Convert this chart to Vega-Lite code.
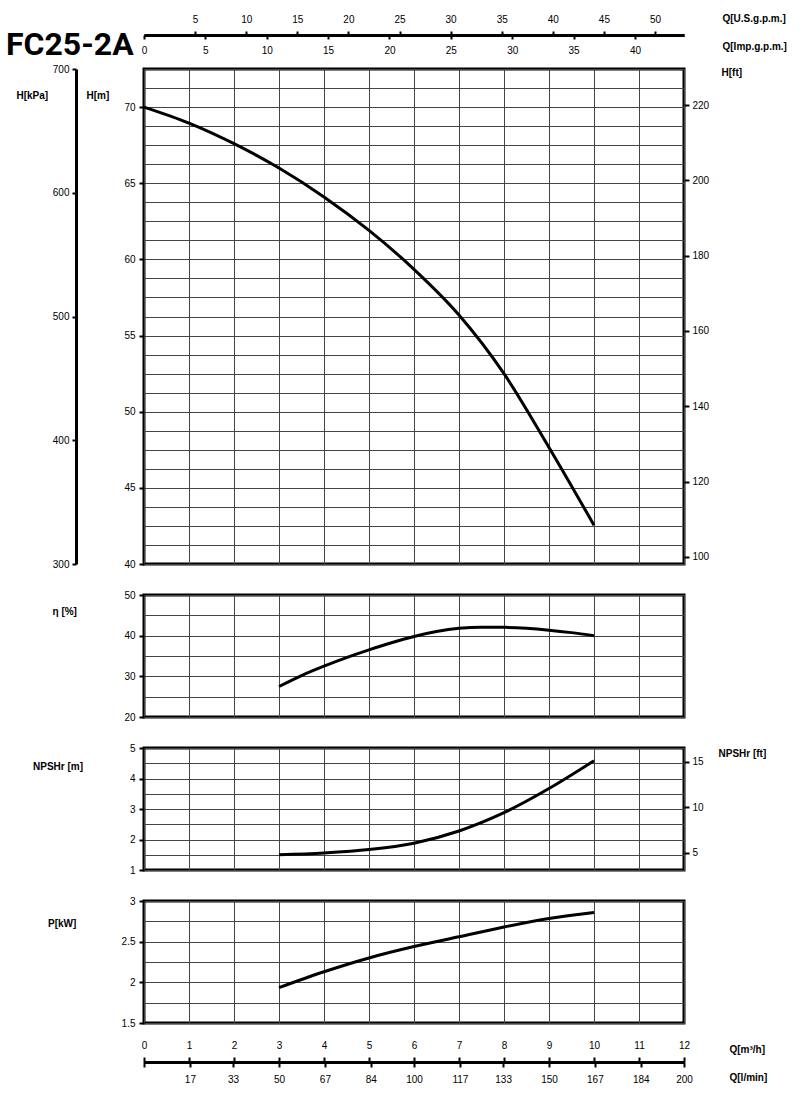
{
  "$schema": "https://vega.github.io/schema/vega-lite/v6.json",
  "padding": {"left": 5, "top": 13, "right": 5, "bottom": 5},
  "background": "white",
  "config": {
    "font": "Liberation Sans",
    "view": {"stroke": "black", "strokeWidth": 3},
    "axis": {
      "labelFont": "Liberation Sans", "labelFontSize": 10, "labelColor": "black",
      "titleFont": "Liberation Sans", "titleFontSize": 10, "titleFontWeight": "bold", "titleColor": "black",
      "tickColor": "black", "domainColor": "black", "gridColor": "#444", "gridWidth": 1, "gridOpacity": 1,
      "labelFlush": false, "labelOverlap": false, "labelBound": false,
      "titleAngle": 0, "titleAlign": "left", "titleBaseline": "middle"
    }
  },
  "datasets": {
    "head": [
      {"Q": 0, "H": 70.0}, {"Q": 1, "H": 68.95}, {"Q": 2, "H": 67.6}, {"Q": 3, "H": 66.0},
      {"Q": 4, "H": 64.1}, {"Q": 5, "H": 61.9}, {"Q": 6, "H": 59.35}, {"Q": 7, "H": 56.35},
      {"Q": 8, "H": 52.5}, {"Q": 9, "H": 47.65}, {"Q": 10, "H": 42.55}
    ],
    "eff": [
      {"Q": 3, "eta": 27.5}, {"Q": 3.5, "eta": 30.2}, {"Q": 4, "eta": 32.5}, {"Q": 4.5, "eta": 34.6},
      {"Q": 5, "eta": 36.5}, {"Q": 5.5, "eta": 38.25}, {"Q": 6, "eta": 39.8}, {"Q": 6.5, "eta": 41.0},
      {"Q": 7, "eta": 41.8}, {"Q": 7.5, "eta": 42.1}, {"Q": 8, "eta": 42.05}, {"Q": 8.5, "eta": 41.8},
      {"Q": 9, "eta": 41.35}, {"Q": 9.5, "eta": 40.75}, {"Q": 10, "eta": 40.0}
    ],
    "npsh": [
      {"Q": 3, "NPSHr": 1.5}, {"Q": 4, "NPSHr": 1.56}, {"Q": 5, "NPSHr": 1.67}, {"Q": 6, "NPSHr": 1.88},
      {"Q": 7, "NPSHr": 2.28}, {"Q": 8, "NPSHr": 2.88}, {"Q": 9, "NPSHr": 3.67}, {"Q": 10, "NPSHr": 4.58}
    ],
    "power": [
      {"Q": 3, "P": 1.935}, {"Q": 4, "P": 2.13}, {"Q": 5, "P": 2.3}, {"Q": 6, "P": 2.44},
      {"Q": 7, "P": 2.56}, {"Q": 8, "P": 2.68}, {"Q": 9, "P": 2.785}, {"Q": 10, "P": 2.86}
    ]
  },
  "spacing": 31,
  "bounds": "flush",
  "vconcat": [
    {
      "width": 540, "height": 3,
      "view": {"stroke": null},
      "data": {"values": [{}]},
      "layer": [
        {
          "mark": {"type": "point", "opacity": 0},
          "encoding": {
            "x": {"datum": 0, "type": "quantitative", "scale": {"domain": [0, 52.834], "nice": false, "zero": false},
              "axis": {"orient": "top", "values": [5, 10, 15, 20, 25, 30, 35, 40, 45, 50], "grid": false,
                "domain": true, "domainWidth": 3, "tickSize": 4, "tickWidth": 2, "labelPadding": 7,
                "title": "Q[U.S.g.p.m.]", "titleX": 578, "titleY": -17}},
            "y": {"datum": 0, "type": "quantitative", "scale": {"domain": [0, 1]},
              "axis": {"orient": "left", "domain": false, "ticks": false, "labels": false, "grid": false,
                "title": "FC25-2A", "titleX": -138.5, "titleY": 19, "titleBaseline": "alphabetic",
                "titleFont": "Roboto", "titleFontSize": 32, "titleFontWeight": "bold"}}
          }
        },
        {
          "mark": {"type": "point", "opacity": 0},
          "encoding": {
            "x": {"datum": 0, "type": "quantitative", "scale": {"domain": [0, 43.994], "nice": false, "zero": false},
              "axis": {"orient": "bottom", "offset": -3, "values": [0, 5, 10, 15, 20, 25, 30, 35, 40], "grid": false,
                "domain": true, "domainWidth": 3, "tickSize": 4, "tickWidth": 2, "labelPadding": 6,
                "title": "Q[Imp.g.p.m.]", "titleX": 578, "titleY": 11}}
          }
        }
      ],
      "resolve": {"scale": {"x": "independent"}}
    },
    {
      "width": 540, "height": 495,
      "data": {"name": "head"},
      "layer": [
        {
          "mark": {"type": "line", "color": "black", "strokeWidth": 3, "interpolate": "monotone"},
          "encoding": {
            "x": {"field": "Q", "type": "quantitative", "scale": {"domain": [0, 12], "nice": false, "zero": false},
              "axis": {"orient": "bottom", "values": [0, 1, 2, 3, 4, 5, 6, 7, 8, 9, 10, 11, 12], "grid": true, "labels": false, "ticks": false, "domain": false, "title": null}},
            "y": {"field": "H", "type": "quantitative", "scale": {"domain": [40, 72.5], "nice": false, "zero": false},
              "axis": {"orient": "left", "values": [40, 41.25, 42.5, 43.75, 45, 46.25, 47.5, 48.75, 50, 51.25, 52.5, 53.75, 55, 56.25, 57.5, 58.75, 60, 61.25, 62.5, 63.75, 65, 66.25, 67.5, 68.75, 70, 71.25, 72.5],
                "grid": true, "domain": false,
                "labelExpr": "datum.value % 5 === 0 ? '' + datum.value : ''",
                "tickOpacity": {"condition": {"test": "datum.value % 5 === 0", "value": 1}, "value": 0},
                "tickSize": 5, "tickWidth": 2, "labelPadding": 4,
                "title": "H[m]", "titleX": -58, "titleY": 26}}
          }
        },
        {
          "mark": {"type": "point", "opacity": 0},
          "encoding": {
            "y": {"datum": 300, "type": "quantitative", "scale": {"domain": [300, 700], "nice": false, "zero": false},
              "axis": {"orient": "left", "offset": 68, "values": [300, 400, 500, 600, 700], "grid": false,
                "domain": true, "domainWidth": 3, "tickSize": 4, "tickWidth": 2, "labelPadding": 3,
                "title": "H[kPa]", "titleX": -60, "titleY": 26}}
          }
        },
        {
          "mark": {"type": "point", "opacity": 0},
          "encoding": {
            "y": {"datum": 100, "type": "quantitative", "scale": {"domain": [98.1, 229.6], "nice": false, "zero": false},
              "axis": {"orient": "right", "values": [100, 120, 140, 160, 180, 200, 220], "grid": false,
                "domain": false, "tickSize": 5, "tickWidth": 2, "labelPadding": 3,
                "title": "H[ft]", "titleX": 37, "titleY": 3}}
          }
        }
      ],
      "resolve": {"scale": {"y": "independent"}}
    },
    {
      "width": 540, "height": 122,
      "data": {"name": "eff"},
      "mark": {"type": "line", "color": "black", "strokeWidth": 3, "interpolate": "monotone"},
      "encoding": {
        "x": {"field": "Q", "type": "quantitative", "scale": {"domain": [0, 12], "nice": false, "zero": false},
          "axis": {"orient": "bottom", "values": [0, 1, 2, 3, 4, 5, 6, 7, 8, 9, 10, 11, 12], "grid": true, "labels": false, "ticks": false, "domain": false, "title": null}},
        "y": {"field": "eta", "type": "quantitative", "scale": {"domain": [20, 50], "nice": false, "zero": false},
          "axis": {"orient": "left", "values": [20, 25, 30, 35, 40, 45, 50], "grid": true, "domain": false,
            "labelExpr": "datum.value % 10 === 0 ? '' + datum.value : ''",
            "tickOpacity": {"condition": {"test": "datum.value % 10 === 0", "value": 1}, "value": 0},
            "tickSize": 5, "tickWidth": 2, "labelPadding": 4,
            "title": "η [%]", "titleX": -92, "titleY": 16}}
      }
    },
    {
      "width": 540, "height": 122,
      "data": {"name": "npsh"},
      "layer": [
        {
          "mark": {"type": "line", "color": "black", "strokeWidth": 3, "interpolate": "monotone"},
          "encoding": {
            "x": {"field": "Q", "type": "quantitative", "scale": {"domain": [0, 12], "nice": false, "zero": false},
              "axis": {"orient": "bottom", "values": [0, 1, 2, 3, 4, 5, 6, 7, 8, 9, 10, 11, 12], "grid": true, "labels": false, "ticks": false, "domain": false, "title": null}},
            "y": {"field": "NPSHr", "type": "quantitative", "scale": {"domain": [1, 5], "nice": false, "zero": false},
              "axis": {"orient": "left", "values": [1, 1.5, 2, 2.5, 3, 3.5, 4, 4.5, 5], "grid": true, "domain": false,
                "labelExpr": "datum.value % 1 === 0 ? '' + datum.value : ''",
                "tickOpacity": {"condition": {"test": "datum.value % 1 === 0", "value": 1}, "value": 0},
                "tickSize": 5, "tickWidth": 2, "labelPadding": 4,
                "title": "NPSHr [m]", "titleX": -111.5, "titleY": 18}}
          }
        },
        {
          "mark": {"type": "point", "opacity": 0},
          "encoding": {
            "y": {"datum": 5, "type": "quantitative", "scale": {"domain": [3.1, 16.5], "nice": false, "zero": false},
              "axis": {"orient": "right", "values": [5, 10, 15], "grid": false,
                "domain": false, "tickSize": 5, "tickWidth": 2, "labelPadding": 3,
                "title": "NPSHr [ft]", "titleX": 34, "titleY": 5}}
          }
        }
      ],
      "resolve": {"scale": {"y": "independent"}}
    },
    {
      "width": 540, "height": 122,
      "data": {"name": "power"},
      "mark": {"type": "line", "color": "black", "strokeWidth": 3, "interpolate": "monotone"},
      "encoding": {
        "x": {"field": "Q", "type": "quantitative", "scale": {"domain": [0, 12], "nice": false, "zero": false},
          "axis": {"orient": "bottom", "values": [0, 1, 2, 3, 4, 5, 6, 7, 8, 9, 10, 11, 12], "grid": true, "labels": false, "ticks": false, "domain": false, "title": null}},
        "y": {"field": "P", "type": "quantitative", "scale": {"domain": [1.5, 3], "nice": false, "zero": false},
          "axis": {"orient": "left", "values": [1.5, 1.75, 2, 2.25, 2.5, 2.75, 3], "grid": true, "domain": false,
            "labelExpr": "datum.value % 0.5 === 0 ? '' + datum.value : ''",
            "tickOpacity": {"condition": {"test": "datum.value % 0.5 === 0", "value": 1}, "value": 0},
            "tickSize": 5, "tickWidth": 2, "labelPadding": 4,
            "title": "P[kW]", "titleX": -96.5, "titleY": 22}}
      }
    },
    {
      "width": 540, "height": 8,
      "view": {"stroke": null},
      "data": {"values": [{}]},
      "layer": [
        {
          "mark": {"type": "point", "opacity": 0},
          "encoding": {
            "x": {"datum": 0, "type": "quantitative", "scale": {"domain": [0, 12], "nice": false, "zero": false},
              "axis": {"orient": "top", "offset": -8, "values": [0, 1, 2, 3, 4, 5, 6, 7, 8, 9, 10, 11, 12], "grid": false,
                "domain": true, "domainWidth": 3, "tickSize": 5, "tickWidth": 2, "labelPadding": 7,
                "title": "Q[m³/h]", "titleX": 585, "titleY": -13}},
            "y": {"datum": 0, "type": "quantitative", "axis": null}
          }
        },
        {
          "mark": {"type": "point", "opacity": 0},
          "encoding": {
            "x": {"datum": 0, "type": "quantitative", "scale": {"domain": [0, 200], "nice": false, "zero": false},
              "axis": {"orient": "bottom", "values": [0, 17, 33, 50, 67, 84, 100, 117, 133, 150, 167, 184, 200], "grid": false,
                "labelExpr": "datum.value === 0 ? '' : '' + datum.value",
                "domain": true, "domainWidth": 3, "tickSize": 5, "tickWidth": 2, "labelPadding": 7,
                "title": "Q[l/min]", "titleX": 585, "titleY": 15}},
            "y": {"datum": 0, "type": "quantitative", "axis": null}
          }
        }
      ],
      "resolve": {"scale": {"x": "independent"}}
    }
  ]
}
